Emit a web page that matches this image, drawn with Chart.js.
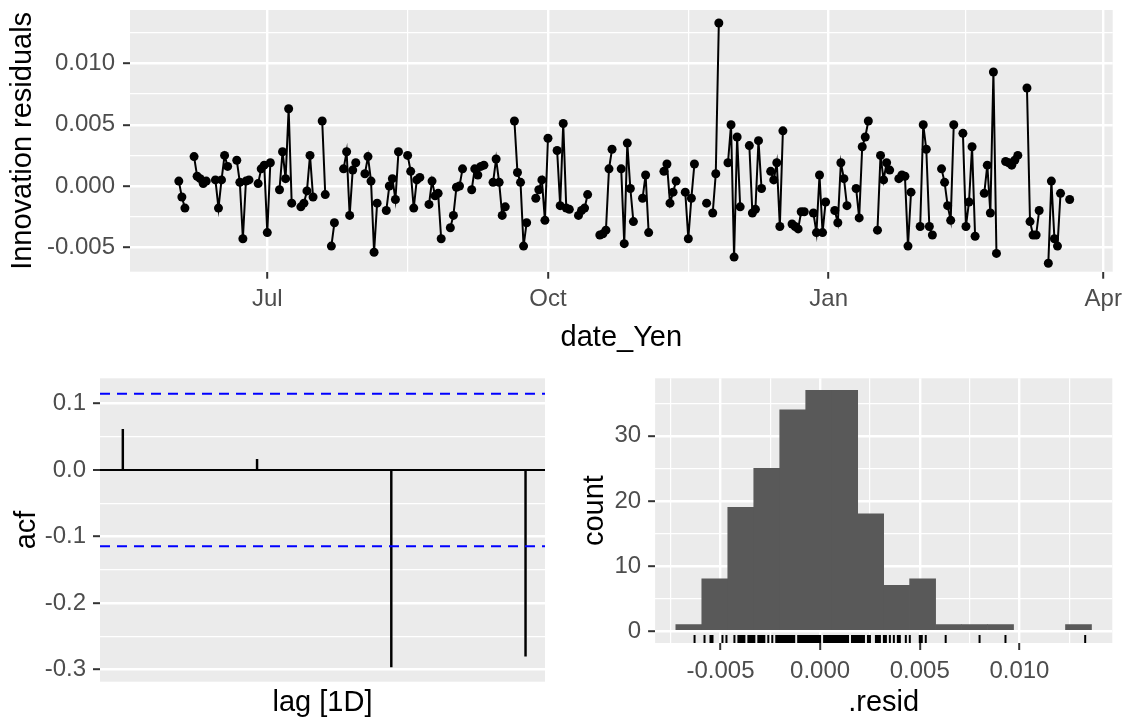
<!DOCTYPE html>
<html>
<head>
<meta charset="utf-8">
<title>date_Yen residual diagnostics</title>
<script src="https://cdn.jsdelivr.net/npm/chart.js@4.4.1/dist/chart.umd.min.js"></script>
<style>
  html, body { margin: 0; padding: 0; background: #fff; }
  body { width: 1127px; height: 722px; position: relative; overflow: hidden; }
  canvas { position: absolute; }
</style>
</head>
<body>
<canvas id="residChart" width="1127" height="360" style="left:0;top:0"></canvas>
<canvas id="acfChart" width="560" height="362" style="left:0;top:360px"></canvas>
<canvas id="histChart" width="567" height="362" style="left:560px;top:360px"></canvas>
<script>
// ---- data -------------------------------------------------------------

// innovation residuals, one per weekday starting at startDate (null = no value)
const startDate = "2021-06-02";
const residuals = [
  0.0004, -0.0009, -0.0018,                    // Jun 2-4
  0.0024, 0.0008, 0.0006, 0.0002, 0.0004,      // Jun 7
  0.0005, -0.0018, 0.0005, 0.0025, 0.0016,     // Jun 14
  0.0021, 0.0003, -0.0043, 0.0004, 0.0005,     // Jun 21
  0.0002, 0.0014, 0.0017, -0.0038, 0.0019,     // Jun 28
  -0.0003, 0.0028, 0.0006, 0.0063, -0.0014,    // Jul 5
  -0.0017, -0.0014, -0.0004, 0.0025, -0.0009,  // Jul 12
  0.0053, -0.0007, null, -0.0049, -0.0030,     // Jul 19
  0.0014, 0.0028, -0.0024, 0.0013, 0.0019,     // Jul 26
  0.0010, 0.0024, 0.0004, -0.0054, -0.0014,    // Aug 2
  -0.0020, 0.0000, 0.0006, -0.0011, 0.0028,    // Aug 9
  0.0025, 0.0012, -0.0018, 0.0005, 0.0007,     // Aug 16
  -0.0015, 0.0004, -0.0008, -0.0006, -0.0043,  // Aug 23
  -0.0034, -0.0024, -0.0001, 0.0000, 0.0014,   // Aug 30
  -0.0003, 0.0014, 0.0009, 0.0016, 0.0017,     // Sep 6
  0.0003, 0.0022, 0.0003, -0.0024, -0.0017,    // Sep 13
  0.0053, 0.0011, 0.0003, -0.0049, -0.0030,    // Sep 20
  -0.0010, -0.0003, 0.0005, -0.0028, 0.0039,   // Sep 27
  0.0029, -0.0016, 0.0051, -0.0018, -0.0019,   // Oct 4
  -0.0024, -0.0020, -0.0018, -0.0007, null,    // Oct 11
  -0.0040, -0.0039, -0.0036, 0.0014, 0.0030,   // Oct 18
  0.0014, -0.0047, 0.0035, -0.0002, -0.0029,   // Oct 25
  -0.0010, 0.0009, -0.0038, null, null,        // Nov 1
  0.0012, 0.0018, -0.0014, -0.0005, 0.0004,    // Nov 8
  -0.0005, -0.0043, -0.0010, 0.0018, null,     // Nov 15
  -0.0014, null, -0.0022, 0.0010, 0.0133,      // Nov 22
  0.0019, 0.0050, -0.0058, 0.0040, -0.0017,    // Nov 29
  0.0033, -0.0022, -0.0019, 0.0037, -0.0002,   // Dec 6
  0.0012, 0.0005, 0.0019, -0.0033, 0.0045,     // Dec 13
  -0.0031, -0.0033, -0.0035, -0.0021, -0.0021, // Dec 20
  -0.0022, -0.0038, 0.0009, -0.0038, -0.0013,  // Dec 27
  -0.0020, -0.0030, 0.0019, 0.0006, -0.0016,   // Jan 3
  -0.0002, -0.0026, 0.0032, 0.0040, 0.0053,    // Jan 10
  -0.0036, 0.0025, 0.0005, 0.0019, 0.0013,     // Jan 17
  0.0006, 0.0009, 0.0008, -0.0049, -0.0005,    // Jan 24
  -0.0033, 0.0050, 0.0030, -0.0033, -0.0040,   // Jan 31
  0.0014, 0.0003, -0.0016, -0.0028, 0.0050,    // Feb 7
  0.0043, -0.0033, -0.0013, 0.0032, -0.0041,   // Feb 14
  -0.0006, 0.0017, -0.0022, 0.0093, -0.0055,   // Feb 21
  0.0020, 0.0019, 0.0017, 0.0021, 0.0025,      // Feb 28
  0.0080, -0.0029, -0.0040, -0.0040, -0.0020,  // Mar 7
  -0.0063, 0.0004, -0.0043, -0.0049, -0.0006,  // Mar 14
  -0.0011                                      // Mar 21
];

const monthBreaks = ["2021-07-01", "2021-10-01", "2022-01-01", "2022-04-01"];
const monthLabels = ["Jul", "Oct", "Jan", "Apr"];

// autocorrelation of the residuals
const acfLags = [1, 2, 3, 4];
const acfValues = [0.061, 0.016, -0.296, -0.280];
const acfBound = 0.1145;

// histogram of the residuals
const histBinStart = -0.00724;
const histBinWidth = 0.0013035;
const histCounts = [1, 8, 19, 25, 34, 37, 37, 18, 7, 8, 1, 1, 1, 0, 0, 1];

// axis breaks
const residMajor = [-0.005, 0, 0.005, 0.01];
const residMinor = [-0.0025, 0.0025, 0.0075, 0.0125];
const acfMajor = [-0.3, -0.2, -0.1, 0, 0.1];
const acfMinor = [-0.25, -0.15, -0.05, 0.05];
const countMajor = [0, 10, 20, 30];
const countMinor = [5, 15, 25, 35];

// ---- helpers ----------------------------------------------------------

const DAY = 86400000;
function dayNumber(iso) {
  const [y, m, d] = iso.split("-").map(Number);
  return Date.UTC(y, m - 1, d) / DAY;
}
function isWeekend(day) {
  const w = new Date(day * DAY).getUTCDay();
  return w === 0 || w === 6;
}

// weekdays carry the residuals, weekends get nulls so the line breaks
function residualPoints() {
  const pts = [];
  let day = dayNumber(startDate);
  residuals.forEach(r => {
    while (isWeekend(day)) { pts.push({ x: day, y: null }); day++; }
    pts.push({ x: day, y: r });
    day++;
  });
  return pts;
}

Chart.defaults.font.family = "'Liberation Sans', Arial, sans-serif";
Chart.defaults.animation = false;

const TICK_FONT = { size: 24 };
const TITLE_FONT = { size: 29, lineHeight: 1.2 };

// grey panel behind the grid, like theme_grey
const panelBackground = {
  id: "panelBackground",
  beforeDraw(chart) {
    const { ctx, chartArea: a } = chart;
    ctx.save();
    ctx.fillStyle = "#ebebeb";
    ctx.fillRect(a.left, a.top, a.right - a.left, a.bottom - a.top);
    ctx.restore();
  }
};

// one linear axis with major + minor breaks, fixed thickness
function ggAxis(o) {
  const majors = new Set(o.majors);
  const isMajor = c => c.tick && majors.has(c.tick.value);
  return {
    type: "linear",
    min: o.min,
    max: o.max,
    offset: false,
    afterBuildTicks: s => {
      s.ticks = o.majors.concat(o.minors)
        .filter(v => v >= o.min && v <= o.max)
        .sort((a, b) => a - b)
        .map(v => ({ value: v }));
    },
    afterFit: s => {
      if (o.size.width !== undefined) s.width = o.size.width;
      if (o.size.height !== undefined) s.height = o.size.height;
      s.paddingTop = s.paddingBottom = s.paddingLeft = s.paddingRight = 0;
    },
    ticks: {
      display: o.showTicks !== false,
      autoSkip: false,
      maxRotation: 0,
      minRotation: 0,
      padding: o.tickPad,
      color: "#4d4d4d",
      font: TICK_FONT,
      callback: v => (majors.has(v) ? o.format(v) : "")
    },
    grid: {
      display: o.showGrid !== false,
      offset: false,
      color: c => (o.lineColor ? o.lineColor(c) : "#ffffff"),
      lineWidth: c => (o.lineWidth ? o.lineWidth(c) : (isMajor(c) ? 2.4 : 1.2)),
      tickColor: c => (isMajor(c) ? "#333333" : "rgba(0,0,0,0)"),
      tickLength: 7,
      tickWidth: 2
    },
    border: { display: false },
    title: {
      display: true,
      text: o.title,
      color: "#000000",
      font: TITLE_FONT,
      padding: o.titlePad
    }
  };
}

// ---- residuals over time ----------------------------------------------

const jul1 = dayNumber("2021-07-01");
const monthDays = monthBreaks.map(dayNumber);
const monthMid = monthDays.slice(1).map((d, i) => (d + monthDays[i]) / 2);

new Chart(document.getElementById("residChart"), {
  type: "line",
  data: {
    datasets: [{
      data: residualPoints(),
      borderColor: "#000000",
      borderWidth: 2,
      pointRadius: 4.5,
      pointBackgroundColor: "#000000",
      pointBorderWidth: 0,
      spanGaps: false
    }]
  },
  options: {
    responsive: false,
    layout: { padding: { top: 10, right: 14.3, bottom: 0, left: 0 } },
    plugins: { legend: { display: false }, tooltip: { enabled: false } },
    scales: {
      x: ggAxis({
        min: jul1 - 45, max: jul1 + 277.1,
        majors: monthDays, minors: monthMid,
        format: v => monthLabels[monthDays.indexOf(v)],
        size: { height: 88.3 }, tickPad: 6,
        title: "date_Yen", titlePad: { bottom: 4.6 }
      }),
      y: ggAxis({
        min: -0.00699, max: 0.01436,
        majors: residMajor, minors: residMinor,
        format: v => v.toFixed(3),
        size: { width: 130 }, tickPad: 8,
        title: "Innovation residuals", titlePad: { top: 5.9 }
      })
    }
  },
  plugins: [panelBackground]
});

// ---- ACF ----------------------------------------------------------------

const lagMin = 0.83, lagMax = 4.145;
const boundLine = v => [{ x: lagMin, y: v }, { x: lagMax, y: v }];

new Chart(document.getElementById("acfChart"), {
  type: "bar",
  data: {
    datasets: [
      { type: "line", data: boundLine(acfBound), borderColor: "#0000ff", borderWidth: 2,
        borderDash: [10, 7], pointRadius: 0 },
      { type: "line", data: boundLine(-acfBound), borderColor: "#0000ff", borderWidth: 2,
        borderDash: [10, 7], pointRadius: 0 },
      { data: acfLags.map((l, i) => ({ x: l, y: acfValues[i] })),
        backgroundColor: "#000000", barThickness: 1.8 }
    ]
  },
  options: {
    responsive: false,
    layout: { padding: { top: 18.3, right: 15, bottom: 0, left: 0 } },
    plugins: { legend: { display: false }, tooltip: { enabled: false } },
    scales: {
      x: ggAxis({
        min: lagMin, max: lagMax, majors: [], minors: [],
        format: () => "", showTicks: false, showGrid: false,
        size: { height: 40.3 }, tickPad: 0,
        title: "lag [1D]", titlePad: { bottom: 1.6 }
      }),
      y: ggAxis({
        min: -0.3183, max: 0.1379,
        majors: acfMajor, minors: acfMinor,
        format: v => v.toFixed(1),
        lineColor: c => (c.tick && c.tick.value === 0 ? "#000000" : "#ffffff"),
        lineWidth: c => (c.tick && c.tick.value === 0 ? 2 : (acfMajor.includes(c.tick && c.tick.value) ? 2.4 : 1.2)),
        size: { width: 100 }, tickPad: 7,
        title: "acf", titlePad: { top: 9.4 }
      })
    }
  },
  plugins: [panelBackground]
});

// ---- histogram with rug -------------------------------------------------

const rug = {
  id: "rug",
  afterDatasetsDraw(chart) {
    const { ctx, chartArea: a, scales: { x } } = chart;
    const len = (a.bottom - a.top) * 0.03;
    ctx.save();
    ctx.strokeStyle = "#000000";
    ctx.lineWidth = 2;
    ctx.beginPath();
    residuals.forEach(r => {
      if (r === null) return;
      const px = x.getPixelForValue(r);
      ctx.moveTo(px, a.bottom);
      ctx.lineTo(px, a.bottom - len);
    });
    ctx.stroke();
    ctx.restore();
  }
};

new Chart(document.getElementById("histChart"), {
  type: "bar",
  data: {
    datasets: [{
      // empty bins are left out rather than drawn as zero-height slivers
      data: histCounts.map((c, i) => ({ x: histBinStart + (i + 0.5) * histBinWidth, y: c > 0 ? c : null })),
      backgroundColor: "#595959",
      borderWidth: 0,
      barPercentage: 1,
      categoryPercentage: 1
    }]
  },
  options: {
    responsive: false,
    layout: { padding: { top: 18.3, right: 14.7, bottom: 0, left: 0 } },
    plugins: { legend: { display: false }, tooltip: { enabled: false } },
    scales: {
      x: ggAxis({
        min: -0.00828, max: 0.01466,
        majors: residMajor, minors: [-0.0075].concat(residMinor),
        format: v => v.toFixed(3),
        size: { height: 79 }, tickPad: 7,
        title: ".resid", titlePad: { bottom: 1.6 }
      }),
      y: ggAxis({
        min: -1.85, max: 38.85,
        majors: countMajor, minors: countMinor,
        format: v => String(v),
        size: { width: 95.1 }, tickPad: 7,
        title: "count", titlePad: { top: 17.9 }
      })
    }
  },
  plugins: [panelBackground, rug]
});
</script>
</body>
</html>
